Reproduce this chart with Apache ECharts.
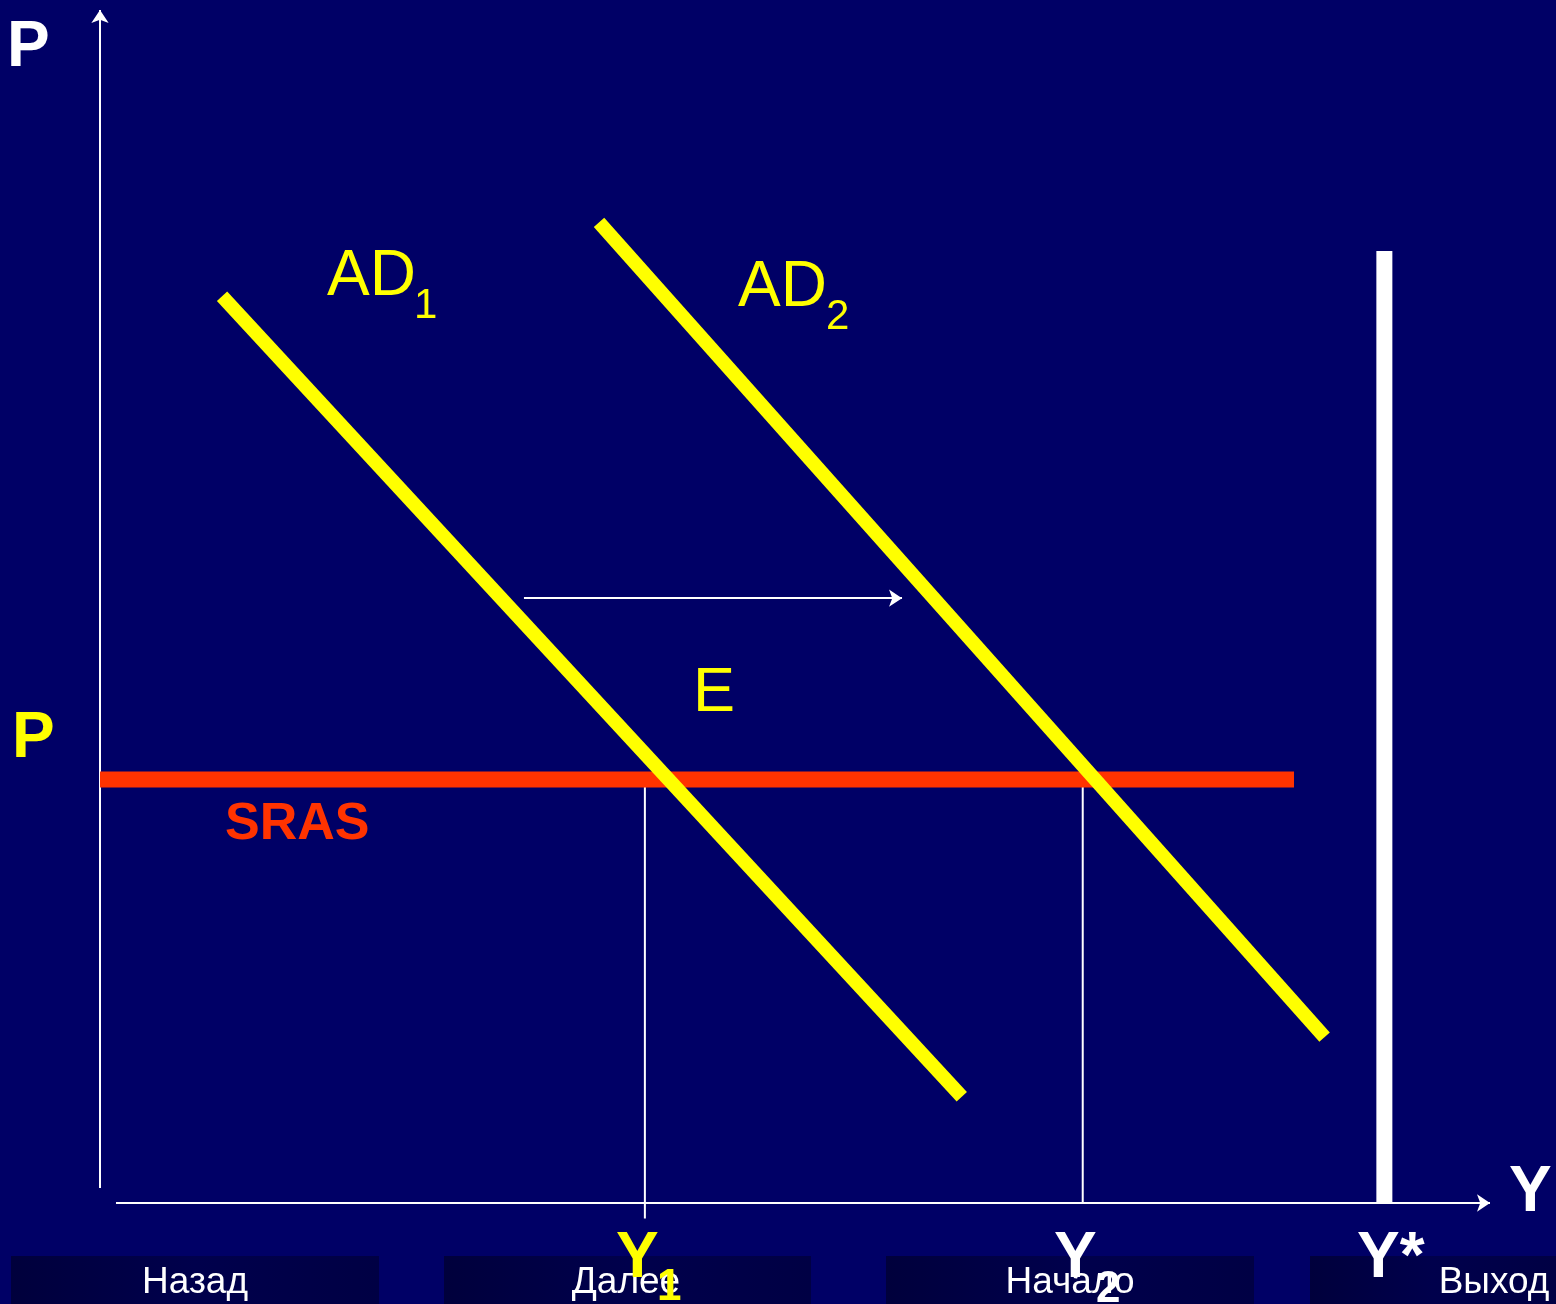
<!DOCTYPE html>
<html>
<head>
<meta charset="utf-8">
<script src="https://cdn.jsdelivr.net/npm/echarts@6/dist/echarts.min.js"></script>
<style>
html,body{margin:0;padding:0;background:#000066;}
#c{width:1556px;height:1304px;}
</style>
</head>
<body>
<div id="c"></div>
<script>
// Data (Y output, P price units; axis 0..100)
var ad1 = [[8.78, 76.0], [62.0, 8.9]];
var ad2 = [[35.9, 82.2], [88.1, 13.9]];
var sras = [[0, 35.5], [85.9, 35.5]];
var lras = [[92.4, 0], [92.4, 79.8]];
var dropY1 = [[39.2, 35.5], [39.2, -1.3]];
var dropY2 = [[70.7, 35.5], [70.7, 0]];
var shiftArrow = [[30.5, 50.7], [57.7, 50.7]];
var axisX = [[1.15, 0], [100, 0]];
var axisY = [[0, 1.26], [0, 100]];
var buttons = ['Назад', 'Далее', 'Начало', 'Выход'];

var FONT = '"Liberation Sans", Arial, sans-serif';
var chart = echarts.init(document.getElementById('c'));

function lineSeries(data, color, width, z) {
  return {
    type: 'line', data: data, symbol: 'none', silent: true, animation: false,
    lineStyle: { color: color, width: width, cap: 'butt' }, z: z
  };
}
function arrowSeries(data, z) {
  return {
    type: 'lines', coordinateSystem: 'cartesian2d', silent: true, animation: false,
    symbol: ['none', 'arrow'], symbolSize: [9, 13],
    lineStyle: { color: '#ffffff', width: 2, opacity: 1, curveness: 0 },
    data: [{ coords: data }], z: z
  };
}

var btnRects = [[11, 368], [444, 367], [886, 368], [1310, 246]];
var btnText = [195, 626, 1070, 1494];
var graphics = [];
buttons.forEach(function (b, i) {
  graphics.push({
    type: 'rect', z: 1, silent: true,
    shape: { x: btnRects[i][0], y: 1256, width: btnRects[i][1], height: 48 },
    style: { fill: new echarts.graphic.LinearGradient(0, 0, 1, 0, [
      { offset: 0, color: '#00003c' }, { offset: 0.5, color: '#00004c' }, { offset: 1, color: '#000044' }]) }
  });
  graphics.push({
    type: 'text', z: 2, silent: true,
    style: { text: b, x: btnText[i], y: 1283, fill: '#ffffff', font: '37px ' + FONT, align: 'center', verticalAlign: 'middle' }
  });
});
function txt(t, x, y, size, color, bold) {
  graphics.push({
    type: 'text', z: 200, silent: true,
    style: { text: t, x: x, y: y, fill: color, font: (bold ? 'bold ' : '') + size + 'px ' + FONT, verticalAlign: 'middle' }
  });
}
txt('P', 7, 48, 64, '#ffffff', true);
txt('P', 12, 739, 64, '#ffff00', true);
txt('SRAS', 225, 825, 52, '#ff3300', true);
txt('AD', 327, 277, 64, '#ffff00', false);
txt('1', 414, 306, 42, '#ffff00', false);
txt('AD', 738, 288, 64, '#ffff00', false);
txt('2', 826, 317, 42, '#ffff00', false);
txt('E', 693, 694, 63, '#ffff00', false);
txt('Y', 1509, 1193, 64, '#ffffff', true);
txt('Y', 616, 1259, 64, '#ffff00', true);
txt('1', 657, 1288, 44, '#ffff00', true);
txt('Y', 1054, 1259, 64, '#ffffff', true);
txt('2', 1096, 1290, 44, '#ffffff', true);
txt('Y*', 1357, 1259, 64, '#ffffff', true);

chart.setOption({
  backgroundColor: '#000066',
  animation: false,
  grid: { left: 100, top: 10, width: 1390, height: 1193 },
  xAxis: { type: 'value', min: 0, max: 100, show: false },
  yAxis: { type: 'value', min: 0, max: 100, show: false },
  series: [
    arrowSeries(axisY, 5),
    arrowSeries(axisX, 5),
    lineSeries(dropY1, '#ffffff', 2, 6),
    lineSeries(dropY2, '#ffffff', 2, 6),
    lineSeries(lras, '#ffffff', 16, 7),
    lineSeries(sras, '#ff3300', 16, 8),
    lineSeries(ad1, '#ffff00', 14, 9),
    lineSeries(ad2, '#ffff00', 14, 9),
    arrowSeries(shiftArrow, 10)
  ].map(function (s) { s.clip = false; return s; }),
  graphic: graphics
});
</script>
</body>
</html>
